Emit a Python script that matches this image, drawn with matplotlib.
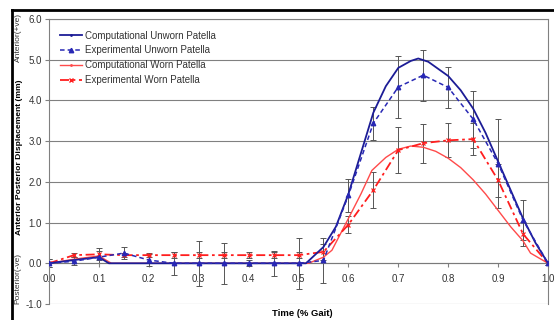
import matplotlib
matplotlib.use("Agg")
import matplotlib.pyplot as plt
from matplotlib.lines import Line2D

plt.rcParams['font.family'] = ['Liberation Sans', 'DejaVu Sans']

# Experimental time points (fraction of gait)
exp_t = [0.0, 0.05, 0.1, 0.15, 0.2, 0.25, 0.3, 0.35, 0.4, 0.45, 0.5,
         0.55, 0.6, 0.65, 0.7, 0.75, 0.8, 0.85, 0.9, 0.95, 1.0]
exp_unworn = [0.0, 0.05, 0.15, 0.25, 0.08, 0.0, 0.0, 0.0, 0.0, 0.0, 0.0,
              0.07, 1.67, 3.44, 4.33, 4.62, 4.32, 3.54, 2.45, 1.06, 0.0]
exp_unworn_err = [0.1, 0.1, 0.15, 0.15, 0.15, 0.28, 0.55, 0.5, 0.07, 0.3, 0.62,
                  0.55, 0.4, 0.4, 0.76, 0.63, 0.5, 0.7, 1.1, 0.5, 0.05]
exp_worn = [0.0, 0.2, 0.22, 0.2, 0.2, 0.2, 0.2, 0.2, 0.2, 0.2, 0.2,
            0.28, 0.95, 1.8, 2.78, 2.95, 3.02, 3.05, 2.04, 0.72, 0.0]
exp_worn_err = [0.1, 0.05, 0.15, 0.05, 0.05, 0.07, 0.07, 0.07, 0.07, 0.07, 0.07,
                0.2, 0.2, 0.43, 0.56, 0.48, 0.42, 0.4, 0.4, 0.3, 0.05]

# Computational curves
comp_unworn_t = [0.0, 0.05, 0.1, 0.12, 0.5, 0.515, 0.55, 0.575, 0.6, 0.625, 0.65,
                 0.675, 0.7, 0.725, 0.74, 0.76, 0.8, 0.825, 0.85, 0.875, 0.9,
                 0.925, 0.95, 0.975, 1.0]
comp_unworn = [0.0, 0.08, 0.15, 0.0, 0.0, 0.0, 0.4, 0.9, 1.7, 2.7, 3.7,
               4.35, 4.8, 4.97, 5.03, 4.95, 4.6, 4.25, 3.8, 3.2, 2.5,
               1.8, 1.1, 0.5, 0.0]
comp_worn_t = [0.0, 0.05, 0.1, 0.125, 0.52, 0.55, 0.567, 0.6, 0.625, 0.647, 0.675,
               0.7, 0.725, 0.75, 0.775, 0.8, 0.825, 0.85, 0.875, 0.9, 0.925,
               0.95, 0.965, 1.0]
comp_worn = [0.0, 0.1, 0.18, 0.0, 0.0, 0.15, 0.32, 1.1, 1.7, 2.28, 2.6,
             2.8, 2.88, 2.85, 2.75, 2.58, 2.35, 2.05, 1.7, 1.3, 0.9,
             0.55, 0.25, 0.0]

x_ticks = [0.0, 0.1, 0.2, 0.3, 0.4, 0.5, 0.6, 0.7, 0.8, 0.9, 1.0]
y_ticks = [-1.0, 0.0, 1.0, 2.0, 3.0, 4.0, 5.0, 6.0]

navy = '#1c1c96'
blue = '#2828b4'
red_light = '#ff4a4a'
red = '#ff1e1e'
grid_c = '#808080'
err_c = '#555555'

fig = plt.figure(figsize=(5.54, 3.2), dpi=100)
ax = fig.add_axes([49 / 554, 1 - 304 / 320, (548 - 49) / 554, (304 - 19) / 320])

for yv in y_ticks:
    ax.axhline(yv, color=grid_c, lw=0.8, zorder=0)

ax.errorbar(exp_t, exp_unworn, yerr=exp_unworn_err, fmt='none', ecolor=err_c,
            elinewidth=0.7, capsize=2, capthick=0.7, zorder=2)
ax.errorbar(exp_t, exp_worn, yerr=exp_worn_err, fmt='none', ecolor=err_c,
            elinewidth=0.7, capsize=2, capthick=0.7, zorder=2)

ax.plot(comp_unworn_t, comp_unworn, color=navy, lw=1.3, zorder=4)
ax.plot(exp_t, exp_unworn, color=blue, lw=1.1, ls=(0, (3, 2)), marker='^',
        ms=3.2, zorder=4)
ax.plot(comp_worn_t, comp_worn, color=red_light, lw=1.0, zorder=3)
ax.plot(exp_t, exp_worn, color=red, lw=1.3, ls=(0, (5, 2, 1.5, 2)), marker='x',
        ms=3.2, mew=0.9, zorder=3)

ax.set_xlim(0, 1.0)
ax.set_ylim(-1.0, 6.0)
ax.set_xticks(x_ticks)
ax.set_xticklabels([f"{v:.1f}" for v in x_ticks])
ax.set_yticks(y_ticks)
ax.set_yticklabels([f"{v:.1f}" for v in y_ticks])
ax.spines['bottom'].set_position(('data', 0))
ax.spines['bottom'].set_color('#7a7a7a')
for s in ['left', 'right', 'top']:
    ax.spines[s].set_color(grid_c)
    ax.spines[s].set_linewidth(0.8)
ax.tick_params(axis='x', direction='out', length=3, pad=5, labelsize=7,
               colors='#333333', color=grid_c)
ax.tick_params(axis='y', direction='out', length=3, pad=2, labelsize=7,
               colors='#333333', color=grid_c)
ax.margins(0)

handles = [
    Line2D([], [], color=navy, lw=1.3, marker='.', ms=2),
    Line2D([], [], color=blue, lw=1.1, ls=(0, (3, 2)), marker='^', ms=3.2),
    Line2D([], [], color=red_light, lw=1.0, marker='.', ms=2),
    Line2D([], [], color=red, lw=1.3, ls=(0, (5, 2, 1.5, 2)), marker='x', ms=3.2),
]
labels = ['Computational Unworn Patella', 'Experimental Unworn Patella',
          'Computational Worn Patella', 'Experimental Worn Patella']
leg = ax.legend(handles, labels, loc='upper left', frameon=False, fontsize=7,
                handlelength=2.2, handletextpad=0.3, labelspacing=0.5,
                bbox_to_anchor=(0.005, 0.99))
for t in leg.get_texts():
    t.set_color('#333333')

fig.text(302 / 554, 1 - 313 / 320, 'Time (% Gait)', ha='center', va='center',
         fontsize=6.8, fontweight='bold')
fig.text(20 / 554, 1 - 157 / 320, 'Anterior Posterior Displacement (mm)',
         rotation=90, ha='center', va='center', fontsize=6.1, fontweight='bold')
fig.text(18 / 554, 1 - 37 / 320, 'Anterior(+ve)', rotation=90, ha='center',
         va='center', fontsize=6.0, color='#333333')
fig.text(18 / 554, 1 - 278 / 320, 'Posterior(-ve)', rotation=90, ha='center',
         va='center', fontsize=6.0, color='#333333')

# Outer frame lines (top and left)
fig.add_artist(Line2D([12 / 554, 1.0], [1 - 10 / 320, 1 - 10 / 320],
                      transform=fig.transFigure, color='black', lw=2))
fig.add_artist(Line2D([12 / 554, 12 / 554], [0, 1 - 10 / 320],
                      transform=fig.transFigure, color='black', lw=2))

fig.savefig('out.png', dpi=100)
